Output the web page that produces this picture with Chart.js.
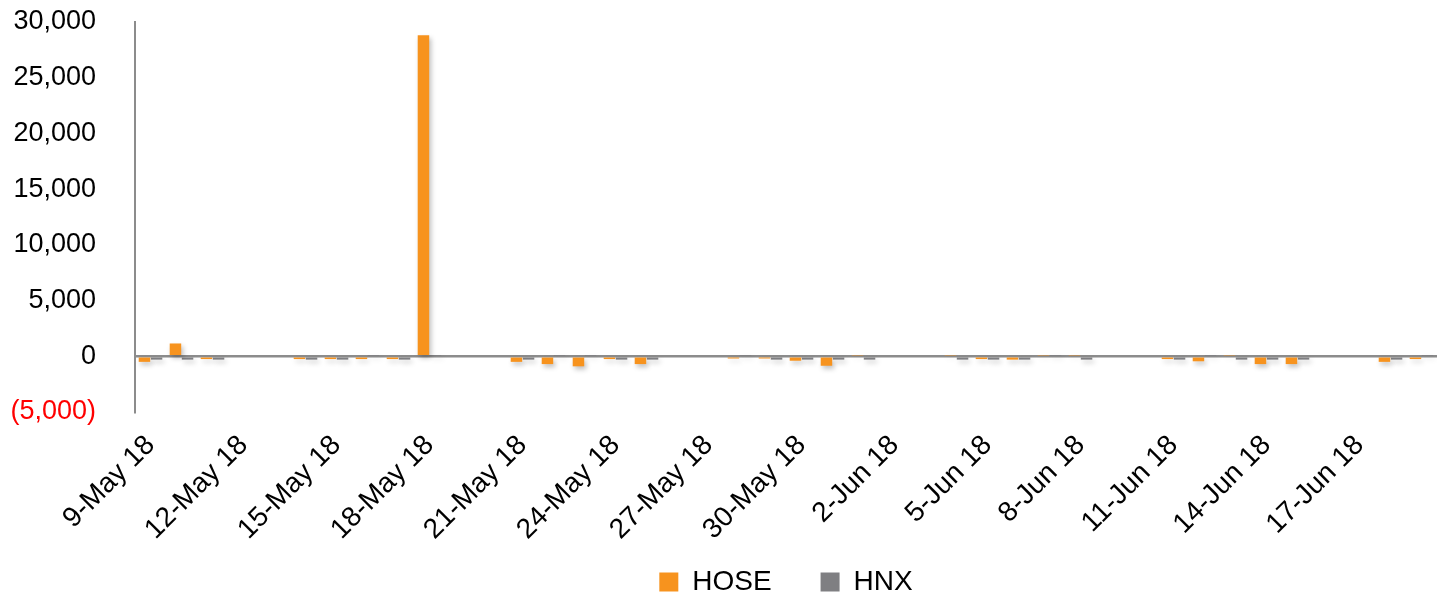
<!DOCTYPE html>
<html>
<head>
<meta charset="utf-8">
<script src="https://cdn.jsdelivr.net/npm/chart.js@4.4.1/dist/chart.umd.min.js"></script>
<style>
  html, body { margin: 0; padding: 0; background: #fff; }
  #wrap { width: 1443px; height: 598px; }
</style>
</head>
<body>
<div id="wrap"><canvas id="chart"></canvas></div>
<script>
// one category per calendar day, weekends left empty
const dates = [
  '9-May 18', '10-May 18', '11-May 18', '12-May 18', '13-May 18', '14-May 18', '15-May 18',
  '16-May 18', '17-May 18', '18-May 18', '19-May 18', '20-May 18', '21-May 18', '22-May 18',
  '23-May 18', '24-May 18', '25-May 18', '26-May 18', '27-May 18', '28-May 18', '29-May 18',
  '30-May 18', '31-May 18', '1-Jun 18', '2-Jun 18', '3-Jun 18', '4-Jun 18', '5-Jun 18',
  '6-Jun 18', '7-Jun 18', '8-Jun 18', '9-Jun 18', '10-Jun 18', '11-Jun 18', '12-Jun 18',
  '13-Jun 18', '14-Jun 18', '15-Jun 18', '16-Jun 18', '17-Jun 18', '18-Jun 18', '19-Jun 18'
];

const hose = [
  -500, 1150, -250, null, null, -250, -250,
  -250, -250, 28800, null, null, -500, -700,
  -900, -250, -700, null, null, -200, -200,
  -400, -850, 80, null, null, 80, -250,
  -300, 80, 80, null, null, -250, -450,
  80, -700, -700, null, null, -500, -250
];

const hnx = [
  -300, -300, -300, null, null, -300, -300,
  50, -300, 50, null, null, -300, 50,
  50, -300, -300, null, null, 50, -300,
  -300, -300, -300, null, null, -300, -300,
  -300, 50, -300, null, null, -300, 50,
  -300, -300, -300, null, null, -300, 50
];

const yTicks = [-5000, 0, 5000, 10000, 15000, 20000, 25000, 30000];

const orange = '#F7931E';
const grey = '#7F7F82';
const axisGrey = '#8C8C8C';
const fontFamily = "'Liberation Sans', Arial, sans-serif";

const fmt = v => Math.abs(v).toLocaleString('en-US');

// soft drop shadow under the bars, like the Excel original
const barShadow = {
  id: 'barShadow',
  beforeDatasetsDraw(chart) {
    const ctx = chart.ctx;
    ctx.save();
    ctx.shadowColor = 'rgba(0, 0, 0, 0.25)';
    ctx.shadowBlur = 5;
    ctx.shadowOffsetX = 2;
    ctx.shadowOffsetY = 3;
  },
  afterDatasetsDraw(chart) {
    chart.ctx.restore();
  }
};

new Chart(document.getElementById('chart'), {
  type: 'bar',
  data: {
    labels: dates,
    datasets: [
      { label: 'HOSE', data: hose, backgroundColor: orange, borderWidth: 0 },
      { label: 'HNX', data: hnx, backgroundColor: grey, borderWidth: 0 }
    ]
  },
  options: {
    responsive: true,
    maintainAspectRatio: false,
    animation: false,
    layout: { padding: { top: 22, right: 6, left: 0, bottom: -8 } },
    datasets: {
      bar: { categoryPercentage: 0.78, barPercentage: 0.95 }
    },
    plugins: {
      legend: {
        position: 'bottom',
        fullSize: false,
        labels: {
          boxWidth: 19,
          boxHeight: 19,
          padding: 10,
          color: '#000',
          font: { size: 28, family: fontFamily },
          // wider gap after the first entry, as in the original legend
          generateLabels: chart => Chart.defaults.plugins.legend.labels.generateLabels(chart)
            .map((item, i) => (i === 0 ? { ...item, text: item.text + '     ' } : item))
        }
      },
      tooltip: { enabled: false }
    },
    scales: {
      x: {
        grid: { display: false },
        border: { display: false },
        afterFit: scale => {
          scale.height = 146;
          scale.paddingLeft = 0;
          scale.paddingRight = 0;
        },
        ticks: {
          autoSkip: false,
          minRotation: 45,
          maxRotation: 45,
          padding: 9,
          color: '#000',
          font: { size: 28, family: fontFamily },
          callback: (val, idx) => (idx % 3 === 0 ? dates[idx] : '')
        }
      },
      y: {
        min: yTicks[0],
        max: yTicks[yTicks.length - 1],
        afterFit: scale => {
          scale.width = 135;
          scale.paddingTop = 0;
          scale.paddingBottom = 0;
        },
        afterBuildTicks: scale => { scale.ticks = yTicks.map(v => ({ value: v })); },
        border: { display: true, color: axisGrey, width: 2 },
        grid: {
          drawTicks: false,
          lineWidth: 2.5,
          color: c => (c.tick && c.tick.value === 0 ? axisGrey : 'transparent')
        },
        ticks: {
          padding: 39,
          color: c => (c.tick && c.tick.value < 0 ? '#FF0000' : '#000'),
          font: { size: 27, family: fontFamily },
          callback: v => (v < 0 ? '(' + fmt(v) + ')' : fmt(v))
        }
      }
    }
  },
  plugins: [barShadow]
});
</script>
</body>
</html>
